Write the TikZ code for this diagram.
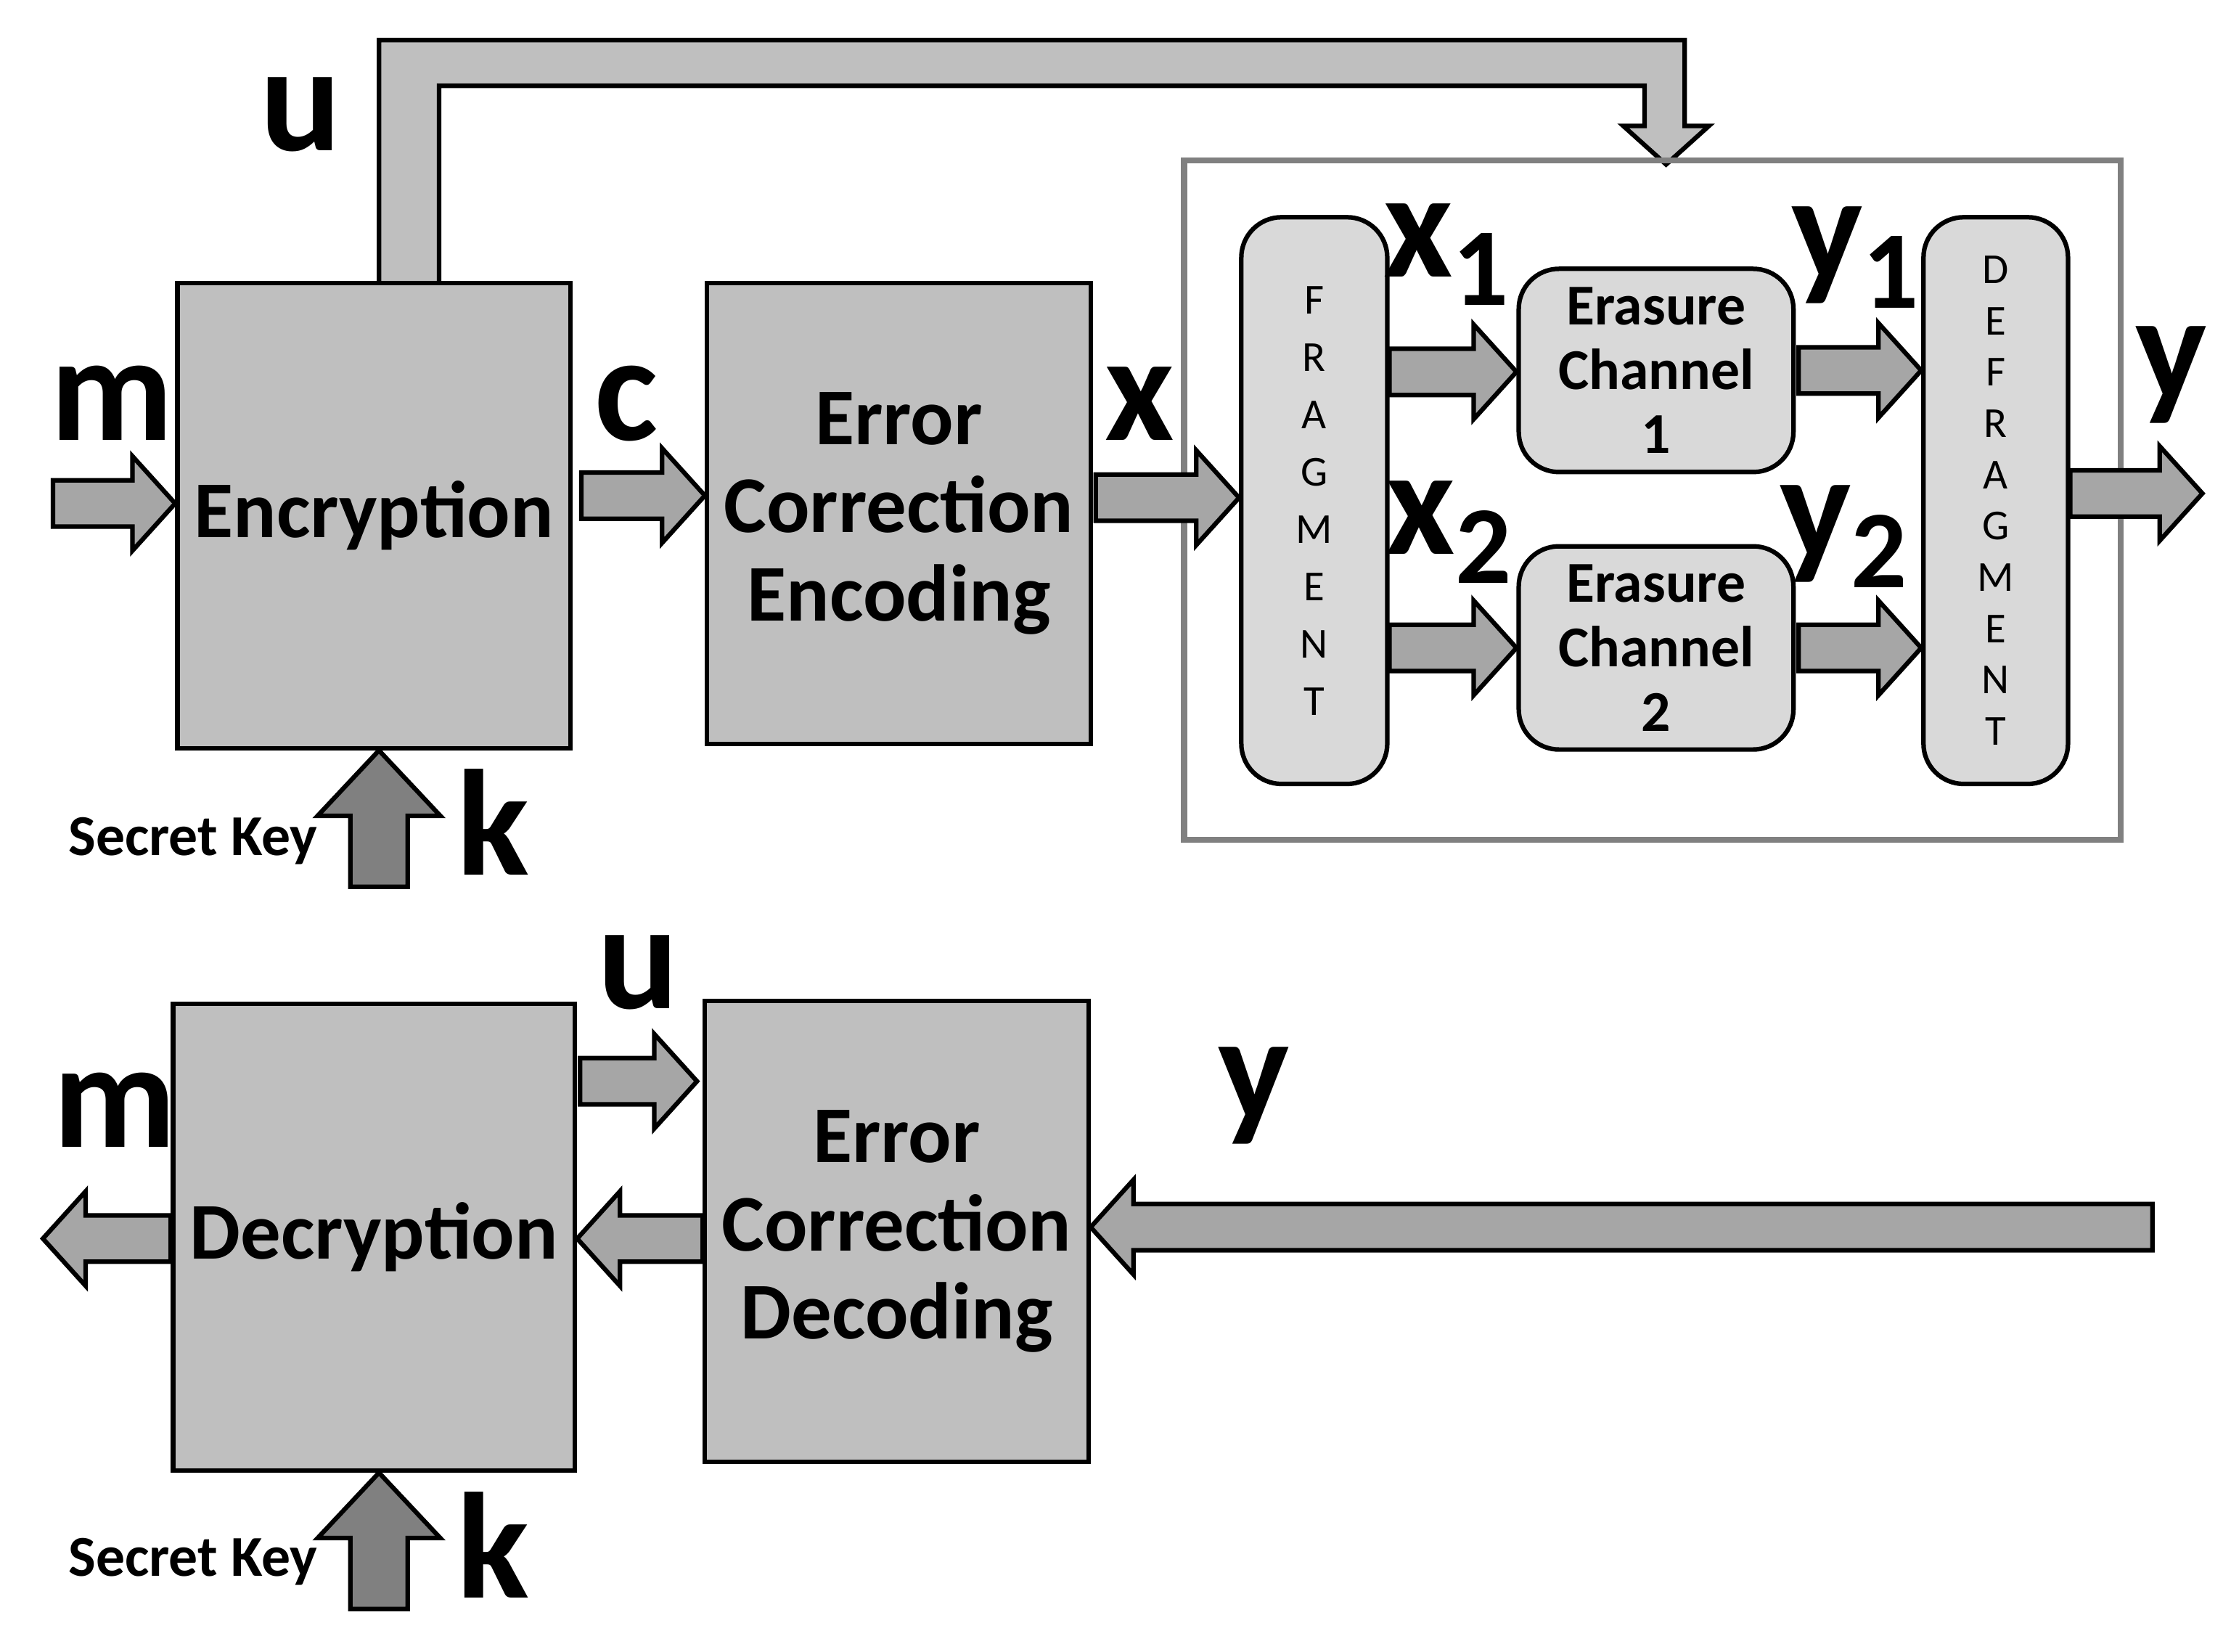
\documentclass[tikz,border=0pt]{standalone}
\usepackage{fontspec}
\setmainfont{Carlito}
\usetikzlibrary{positioning,calc}
\definecolor{boxgray}{HTML}{BFBFBF}
\definecolor{arrgray}{HTML}{A6A6A6}
\definecolor{keygray}{HTML}{808080}
\definecolor{chgray}{HTML}{D9D9D9}
\tikzset{
  blk/.style={draw=black,line width=0.9pt,line join=miter},
  box/.style={blk,fill=boxgray,align=center,font=\bfseries\fontsize{16}{17.5}\selectfont},
  chan/.style={blk,fill=chgray,rounded corners=8pt,align=center,font=\bfseries\fontsize{11.5}{12.8}\selectfont},
  lbl/.style={font=\bfseries\fontsize{30}{30}\selectfont},
  sub/.style={font=\bfseries\fontsize{20}{20}\selectfont},
  keylbl/.style={font=\bfseries\fontsize{11.5}{12}\selectfont}
}
% horizontal block arrow: [fill]{from}{to}
\newcommand{\harrow}[3][arrgray]{%
  \draw[blk,fill=#1] let \p1=(#2), \p2=(#3), \n1={sign(\x2-\x1)} in
    (\x1,{\y1-4.6pt}) -- ({\x2-\n1*8.5pt},{\y1-4.6pt}) -- ({\x2-\n1*8.5pt},{\y1-9.4pt})
    -- (\x2,\y1) -- ({\x2-\n1*8.5pt},{\y1+9.4pt}) -- ({\x2-\n1*8.5pt},{\y1+4.6pt})
    -- (\x1,{\y1+4.6pt}) -- cycle;}
% vertical key arrow (upwards)
\newcommand{\karrow}[2]{%
  \draw[blk,fill=keygray] let \p1=(#1), \p2=(#2) in
    ({\x1-5.7pt},\y1) -- ({\x1-5.7pt},{\y2-13pt}) -- ({\x1-12.2pt},{\y2-13pt})
    -- (\x1,\y2) -- ({\x1+12.2pt},{\y2-13pt}) -- ({\x1+5.7pt},{\y2-13pt})
    -- ({\x1+5.7pt},\y1) -- cycle;}
\begin{document}
\begin{tikzpicture}[x=0.01cm,y=-0.01cm]
  \useasboundingbox (0,0) rectangle (1560,1155);
  % u pipe to channel
  \draw[blk,fill=boxgray] (265,198) -- (265,28) -- (1178,28) -- (1178,88) -- (1195,88)
    -- (1165,115) -- (1135,88) -- (1150,88) -- (1150,60) -- (307,60) -- (307,198) -- cycle;
  % channel frame
  \draw[keygray,line width=1.2pt] (828,112) rectangle (1483,587);
  % upper blocks
  \node[box,minimum width=2.67cm,minimum height=3.25cm] (enc) at (261.5,360.5) {Encryption};
  \node[box,minimum width=2.67cm,minimum height=3.22cm] (ecce) at (628.5,359) {Error\\Correction\\Encoding};
  \node[chan,minimum width=1.02cm,minimum height=3.96cm,font=\fontsize{8.5}{11.4}\selectfont] (frag) at (919,350) {F\\R\\A\\G\\M\\E\\N\\T};
  \node[chan,minimum width=1.92cm,minimum height=1.42cm] (ch1) at (1158,259) {Erasure\\Channel\\1};
  \node[chan,minimum width=1.92cm,minimum height=1.42cm] (ch2) at (1158,453) {Erasure\\Channel\\2};
  \node[chan,minimum width=1.01cm,minimum height=3.96cm,font=\fontsize{8.5}{10.2}\selectfont] (defrag) at (1395.5,350) {D\\E\\F\\R\\A\\G\\M\\E\\N\\T};
  % lower blocks
  \node[box,minimum width=2.67cm,minimum height=3.26cm] (dec) at (261.5,865) {Decryption};
  \node[box,minimum width=2.66cm,minimum height=3.22cm] (eccd) at (627,861) {Error\\Correction\\Decoding};
  % free ends
  \coordinate (mIn) at (37,352);
  \coordinate (yOut) at (1540,345);
  \coordinate (mOut) at (30,866);
  \coordinate (yIn) at (1505,858);
  \coordinate (k1) at (265,620);
  \coordinate (k2) at (265,1125);
  % upper arrows
  \harrow{mIn}{enc.west |- mIn}
  \harrow{$(enc.east)+(6,-14)$}{$(ecce.west)+(0,-14)$}
  \harrow{$(ecce.east)+(2,-11)$}{frag.west |- 0,348}
  \harrow{frag.east |- 0,260}{ch1.west |- 0,260}
  \harrow{frag.east |- 0,453}{ch2.west |- 0,453}
  \harrow{$(ch1.east)+(2,0)$}{defrag.west |- 0,258}
  \harrow{$(ch2.east)+(2,0)$}{defrag.west |- 0,452}
  \harrow{defrag.east |- yOut}{yOut}
  \karrow{k1}{enc.south}
  % lower arrows
  \harrow{$(dec.east)+(2,-109)$}{$(eccd.west)+(-4,-105)$}
  \harrow{eccd.west |- 0,866}{dec.east |- 0,866}
  \harrow{dec.west |- mOut}{mOut}
  \harrow{yIn}{eccd.east |- yIn}
  \karrow{k2}{dec.south}
  % labels
  \node[lbl] (lu1) at (210,80) {u};
  \node[lbl] (lm1) at (78,282) {m};
  \node[lbl] (lc) at (438,282) {c};
  \node[lbl] (lx) at (797,282) {x};
  \node[lbl] (lx1) at (1012,178) {x\textsubscript{\fontsize{22}{22}\selectfont 1}};
  \node[lbl] (lx2) at (1014,372) {x\textsubscript{\fontsize{22}{22}\selectfont 2}};
  \node[lbl] (ly1) at (1298,180) {y\textsubscript{\fontsize{22}{22}\selectfont 1}};
  \node[lbl] (ly2) at (1290,375) {y\textsubscript{\fontsize{22}{22}\selectfont 2}};
  \node[lbl] (ly) at (1518,262) {y};
  \node[lbl] (lk1) at (345,575) {k};
  \node[keylbl] (lsk1) at (135,588) {Secret Key};
  \node[lbl] (lu2) at (446,680) {u};
  \node[lbl] (lm2) at (80,776) {m};
  \node[lbl] (ly3) at (877,766) {y};
  \node[lbl] (lk2) at (345,1080) {k};
  \node[keylbl] (lsk2) at (135,1092) {Secret Key};
\end{tikzpicture}
\end{document}
